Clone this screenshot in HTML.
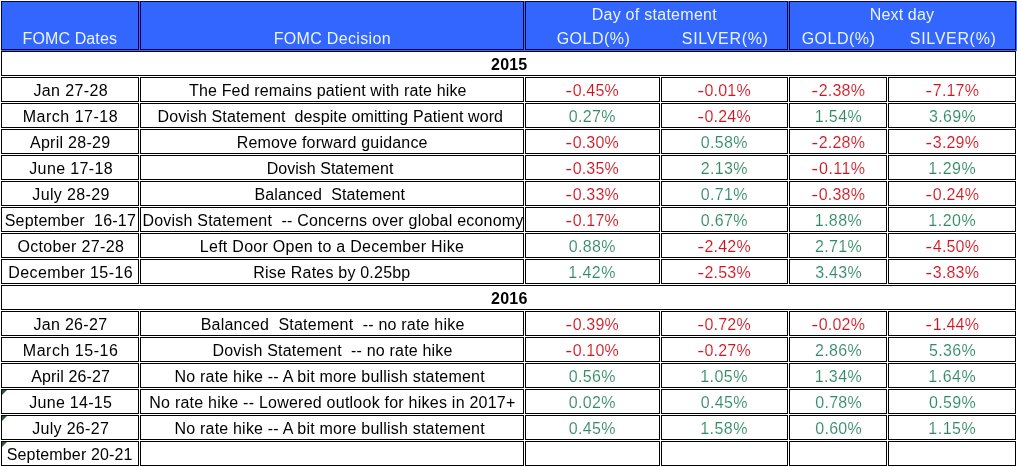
<!DOCTYPE html>
<html><head><meta charset="utf-8"><title>FOMC</title>
<style>
html,body{margin:0;padding:0;background:#fff;}
body{width:1017px;height:467px;position:relative;overflow:hidden;font-family:"Liberation Sans",sans-serif;font-size:16px;color:#111;}
.c{position:absolute;box-sizing:border-box;border:1px solid #000;background:#fff;height:25px;}
.h{position:absolute;box-sizing:border-box;border:1px solid #00005e;background:#3366ff;top:1px;height:49px;}
.hb{position:absolute;left:0;top:0;width:1017px;height:51px;background:#5568bd;}
.w{position:absolute;background:#fff;}
.x{position:absolute;white-space:pre;}
.tx{position:absolute;left:0;top:0;width:1017px;height:467px;will-change:transform;}
.hw{color:#e8f4ff;}
.k{color:#000;}
.r{color:#d0141f;-webkit-text-stroke:0.12px #fff;}
.g{color:#318a66;-webkit-text-stroke:0.12px #fff;}
.y{font-weight:bold;color:#000;}
.m{display:inline-block;transform:scaleX(1.3);transform-origin:100% 50%;}
.t{position:absolute;width:0;height:0;border-top:5px solid #2c5936;border-right:5px solid transparent;}
</style></head><body>
<div class="hb"></div><div class="w" style="left:0;top:0;width:1017px;height:1px"></div><div class="w" style="left:0;top:0;width:1px;height:51px"></div><div class="w" style="left:1016px;top:1px;width:1px;height:49px;background:#4672ee"></div>
<div class="h" style="left:1px;width:138px"></div><div class="h" style="left:140px;width:384px"></div><div class="h" style="left:525px;width:263px"></div><div class="h" style="left:789px;width:227px"></div>
<div class="c" style="left:1px;width:1015px;top:51px;border-top-color:#000038"></div><div class="c" style="left:1px;width:1015px;top:285px"></div>
<div class="c" style="left:1px;width:138px;top:77px"></div><div class="c" style="left:140px;width:384px;top:77px"></div><div class="c" style="left:525px;width:135px;top:77px"></div><div class="c" style="left:661px;width:127px;top:77px"></div><div class="c" style="left:789px;width:98px;top:77px"></div><div class="c" style="left:888px;width:128px;top:77px"></div>
<div class="c" style="left:1px;width:138px;top:103px"></div><div class="c" style="left:140px;width:384px;top:103px"></div><div class="c" style="left:525px;width:135px;top:103px"></div><div class="c" style="left:661px;width:127px;top:103px"></div><div class="c" style="left:789px;width:98px;top:103px"></div><div class="c" style="left:888px;width:128px;top:103px"></div>
<div class="c" style="left:1px;width:138px;top:129px"></div><div class="c" style="left:140px;width:384px;top:129px"></div><div class="c" style="left:525px;width:135px;top:129px"></div><div class="c" style="left:661px;width:127px;top:129px"></div><div class="c" style="left:789px;width:98px;top:129px"></div><div class="c" style="left:888px;width:128px;top:129px"></div>
<div class="c" style="left:1px;width:138px;top:155px"></div><div class="c" style="left:140px;width:384px;top:155px"></div><div class="c" style="left:525px;width:135px;top:155px"></div><div class="c" style="left:661px;width:127px;top:155px"></div><div class="c" style="left:789px;width:98px;top:155px"></div><div class="c" style="left:888px;width:128px;top:155px"></div>
<div class="c" style="left:1px;width:138px;top:181px"></div><div class="c" style="left:140px;width:384px;top:181px"></div><div class="c" style="left:525px;width:135px;top:181px"></div><div class="c" style="left:661px;width:127px;top:181px"></div><div class="c" style="left:789px;width:98px;top:181px"></div><div class="c" style="left:888px;width:128px;top:181px"></div>
<div class="c" style="left:1px;width:138px;top:207px"></div><div class="c" style="left:140px;width:384px;top:207px"></div><div class="c" style="left:525px;width:135px;top:207px"></div><div class="c" style="left:661px;width:127px;top:207px"></div><div class="c" style="left:789px;width:98px;top:207px"></div><div class="c" style="left:888px;width:128px;top:207px"></div>
<div class="c" style="left:1px;width:138px;top:233px"></div><div class="c" style="left:140px;width:384px;top:233px"></div><div class="c" style="left:525px;width:135px;top:233px"></div><div class="c" style="left:661px;width:127px;top:233px"></div><div class="c" style="left:789px;width:98px;top:233px"></div><div class="c" style="left:888px;width:128px;top:233px"></div>
<div class="c" style="left:1px;width:138px;top:259px"></div><div class="c" style="left:140px;width:384px;top:259px"></div><div class="c" style="left:525px;width:135px;top:259px"></div><div class="c" style="left:661px;width:127px;top:259px"></div><div class="c" style="left:789px;width:98px;top:259px"></div><div class="c" style="left:888px;width:128px;top:259px"></div>
<div class="c" style="left:1px;width:138px;top:311px"></div><div class="c" style="left:140px;width:384px;top:311px"></div><div class="c" style="left:525px;width:135px;top:311px"></div><div class="c" style="left:661px;width:127px;top:311px"></div><div class="c" style="left:789px;width:98px;top:311px"></div><div class="c" style="left:888px;width:128px;top:311px"></div>
<div class="c" style="left:1px;width:138px;top:337px"></div><div class="c" style="left:140px;width:384px;top:337px"></div><div class="c" style="left:525px;width:135px;top:337px"></div><div class="c" style="left:661px;width:127px;top:337px"></div><div class="c" style="left:789px;width:98px;top:337px"></div><div class="c" style="left:888px;width:128px;top:337px"></div>
<div class="c" style="left:1px;width:138px;top:363px"></div><div class="c" style="left:140px;width:384px;top:363px"></div><div class="c" style="left:525px;width:135px;top:363px"></div><div class="c" style="left:661px;width:127px;top:363px"></div><div class="c" style="left:789px;width:98px;top:363px"></div><div class="c" style="left:888px;width:128px;top:363px"></div>
<div class="c" style="left:1px;width:138px;top:389px"></div><div class="c" style="left:140px;width:384px;top:389px"></div><div class="c" style="left:525px;width:135px;top:389px"></div><div class="c" style="left:661px;width:127px;top:389px"></div><div class="c" style="left:789px;width:98px;top:389px"></div><div class="c" style="left:888px;width:128px;top:389px"></div>
<div class="c" style="left:1px;width:138px;top:415px"></div><div class="c" style="left:140px;width:384px;top:415px"></div><div class="c" style="left:525px;width:135px;top:415px"></div><div class="c" style="left:661px;width:127px;top:415px"></div><div class="c" style="left:789px;width:98px;top:415px"></div><div class="c" style="left:888px;width:128px;top:415px"></div>
<div class="c" style="left:1px;width:138px;top:441px"></div><div class="c" style="left:140px;width:384px;top:441px"></div><div class="c" style="left:525px;width:135px;top:441px"></div><div class="c" style="left:661px;width:127px;top:441px"></div><div class="c" style="left:789px;width:98px;top:441px"></div><div class="c" style="left:888px;width:128px;top:441px"></div>
<div class="t" style="left:2px;top:390px"></div><div class="t" style="left:2px;top:416px"></div><div class="t" style="left:2px;top:442px"></div>
<div class="tx">
<span class="x hw" style="left:22.52px;top:30px;line-height:18px;letter-spacing:0.121px">FOMC Dates</span>
<span class="x hw" style="left:273.63px;top:30px;line-height:18px;letter-spacing:0.334px">FOMC Decision</span>
<span class="x hw" style="left:591.63px;top:6px;line-height:18px;letter-spacing:0.274px">Day of statement</span>
<span class="x hw" style="left:556.71px;top:30px;line-height:18px;letter-spacing:0.469px">GOLD(%)</span>
<span class="x hw" style="left:681.79px;top:30px;line-height:18px;letter-spacing:0.689px">SILVER(%)</span>
<span class="x hw" style="left:869.87px;top:6px;line-height:18px;letter-spacing:0.132px">Next day</span>
<span class="x hw" style="left:801.71px;top:30px;line-height:18px;letter-spacing:0.469px">GOLD(%)</span>
<span class="x hw" style="left:909.79px;top:30px;line-height:18px;letter-spacing:0.685px">SILVER(%)</span>
<span class="x y" style="left:491.03px;top:53px;line-height:23px;letter-spacing:0.220px">2015</span>
<span class="x y" style="left:491.03px;top:287px;line-height:23px;letter-spacing:0.278px">2016</span>
<span class="x k" style="left:33.43px;top:79px;line-height:23px;letter-spacing:0.384px">Jan 27-28</span>
<span class="x k" style="left:189.10px;top:79px;line-height:23px;letter-spacing:0.142px">The Fed remains patient with rate hike</span>
<span class="x r" style="left:567.22px;top:79px;line-height:23px;letter-spacing:0.145px"><span class="m">-</span>0.45%</span>
<span class="x r" style="left:698.93px;top:79px;line-height:23px;letter-spacing:0.207px"><span class="m">-</span>0.01%</span>
<span class="x r" style="left:813.20px;top:79px;line-height:23px;letter-spacing:0.207px"><span class="m">-</span>2.38%</span>
<span class="x r" style="left:927.32px;top:79px;line-height:23px;letter-spacing:0.180px"><span class="m">-</span>7.17%</span>
<span class="x k" style="left:22.80px;top:105px;line-height:23px;letter-spacing:0.498px">March 17-18</span>
<span class="x k" style="left:157.50px;top:105px;line-height:23px;letter-spacing:0.106px">Dovish Statement  despite omitting Patient word</span>
<span class="x g" style="left:568.87px;top:105px;line-height:23px;letter-spacing:0.297px">0.27%</span>
<span class="x r" style="left:698.93px;top:105px;line-height:23px;letter-spacing:0.207px"><span class="m">-</span>0.24%</span>
<span class="x g" style="left:814.67px;top:105px;line-height:23px;letter-spacing:0.428px">1.54%</span>
<span class="x g" style="left:928.88px;top:105px;line-height:23px;letter-spacing:0.362px">3.69%</span>
<span class="x k" style="left:30.00px;top:131px;line-height:23px;letter-spacing:0.275px">April 28-29</span>
<span class="x k" style="left:236.68px;top:131px;line-height:23px;letter-spacing:0.185px">Remove forward guidance</span>
<span class="x r" style="left:567.22px;top:131px;line-height:23px;letter-spacing:0.145px"><span class="m">-</span>0.30%</span>
<span class="x g" style="left:700.74px;top:131px;line-height:23px;letter-spacing:0.331px">0.58%</span>
<span class="x r" style="left:813.20px;top:131px;line-height:23px;letter-spacing:0.207px"><span class="m">-</span>2.28%</span>
<span class="x r" style="left:927.32px;top:131px;line-height:23px;letter-spacing:0.180px"><span class="m">-</span>3.29%</span>
<span class="x k" style="left:29.28px;top:157px;line-height:23px;letter-spacing:0.357px">June 17-18</span>
<span class="x k" style="left:266.68px;top:157px;line-height:23px;letter-spacing:0.025px">Dovish Statement</span>
<span class="x r" style="left:567.22px;top:157px;line-height:23px;letter-spacing:0.145px"><span class="m">-</span>0.35%</span>
<span class="x g" style="left:700.63px;top:157px;line-height:23px;letter-spacing:0.357px">2.13%</span>
<span class="x r" style="left:813.29px;top:157px;line-height:23px;letter-spacing:0.452px"><span class="m">-</span>0.11%</span>
<span class="x g" style="left:928.33px;top:157px;line-height:23px;letter-spacing:0.500px">1.29%</span>
<span class="x k" style="left:32.28px;top:183px;line-height:23px;letter-spacing:0.379px">July 28-29</span>
<span class="x k" style="left:254.50px;top:183px;line-height:23px;letter-spacing:0.109px">Balanced  Statement</span>
<span class="x r" style="left:567.22px;top:183px;line-height:23px;letter-spacing:0.145px"><span class="m">-</span>0.33%</span>
<span class="x g" style="left:700.74px;top:183px;line-height:23px;letter-spacing:0.331px">0.71%</span>
<span class="x r" style="left:813.20px;top:183px;line-height:23px;letter-spacing:0.207px"><span class="m">-</span>0.38%</span>
<span class="x r" style="left:927.32px;top:183px;line-height:23px;letter-spacing:0.180px"><span class="m">-</span>0.24%</span>
<span class="x k" style="left:4.74px;top:209px;line-height:23px;letter-spacing:0.200px">September  16-17</span>
<span class="x k" style="left:142.49px;top:209px;line-height:23px;letter-spacing:0.208px">Dovish Statement  -- Concerns over global economy</span>
<span class="x r" style="left:567.22px;top:209px;line-height:23px;letter-spacing:0.145px"><span class="m">-</span>0.17%</span>
<span class="x g" style="left:700.74px;top:209px;line-height:23px;letter-spacing:0.331px">0.67%</span>
<span class="x g" style="left:814.67px;top:209px;line-height:23px;letter-spacing:0.428px">1.88%</span>
<span class="x g" style="left:928.33px;top:209px;line-height:23px;letter-spacing:0.500px">1.20%</span>
<span class="x k" style="left:17.45px;top:235px;line-height:23px;letter-spacing:0.340px">October 27-28</span>
<span class="x k" style="left:199.80px;top:235px;line-height:23px;letter-spacing:0.274px">Left Door Open to a December Hike</span>
<span class="x g" style="left:568.87px;top:235px;line-height:23px;letter-spacing:0.297px">0.88%</span>
<span class="x r" style="left:698.93px;top:235px;line-height:23px;letter-spacing:0.207px"><span class="m">-</span>2.42%</span>
<span class="x g" style="left:815.05px;top:235px;line-height:23px;letter-spacing:0.335px">2.71%</span>
<span class="x r" style="left:927.32px;top:235px;line-height:23px;letter-spacing:0.180px"><span class="m">-</span>4.50%</span>
<span class="x k" style="left:8.27px;top:261px;line-height:23px;letter-spacing:0.395px">December 15-16</span>
<span class="x k" style="left:253.27px;top:261px;line-height:23px;letter-spacing:0.211px">Rise Rates by 0.25bp</span>
<span class="x g" style="left:568.34px;top:261px;line-height:23px;letter-spacing:0.429px">1.42%</span>
<span class="x r" style="left:698.93px;top:261px;line-height:23px;letter-spacing:0.207px"><span class="m">-</span>2.53%</span>
<span class="x g" style="left:815.16px;top:261px;line-height:23px;letter-spacing:0.306px">3.43%</span>
<span class="x r" style="left:927.32px;top:261px;line-height:23px;letter-spacing:0.180px"><span class="m">-</span>3.83%</span>
<span class="x k" style="left:33.43px;top:313px;line-height:23px;letter-spacing:0.306px">Jan 26-27</span>
<span class="x k" style="left:200.68px;top:313px;line-height:23px;letter-spacing:0.216px">Balanced  Statement  -- no rate hike</span>
<span class="x r" style="left:567.22px;top:313px;line-height:23px;letter-spacing:0.145px"><span class="m">-</span>0.39%</span>
<span class="x r" style="left:698.93px;top:313px;line-height:23px;letter-spacing:0.207px"><span class="m">-</span>0.72%</span>
<span class="x r" style="left:813.20px;top:313px;line-height:23px;letter-spacing:0.207px"><span class="m">-</span>0.02%</span>
<span class="x r" style="left:927.32px;top:313px;line-height:23px;letter-spacing:0.180px"><span class="m">-</span>1.44%</span>
<span class="x k" style="left:22.80px;top:339px;line-height:23px;letter-spacing:0.523px">March 15-16</span>
<span class="x k" style="left:212.50px;top:339px;line-height:23px;letter-spacing:0.188px">Dovish Statement  -- no rate hike</span>
<span class="x r" style="left:567.22px;top:339px;line-height:23px;letter-spacing:0.145px"><span class="m">-</span>0.10%</span>
<span class="x r" style="left:698.93px;top:339px;line-height:23px;letter-spacing:0.207px"><span class="m">-</span>0.27%</span>
<span class="x g" style="left:815.05px;top:339px;line-height:23px;letter-spacing:0.335px">2.86%</span>
<span class="x g" style="left:928.88px;top:339px;line-height:23px;letter-spacing:0.360px">5.36%</span>
<span class="x k" style="left:31.13px;top:365px;line-height:23px;letter-spacing:0.146px">April 26-27</span>
<span class="x k" style="left:174.50px;top:365px;line-height:23px;letter-spacing:0.201px">No rate hike -- A bit more bullish statement</span>
<span class="x g" style="left:568.87px;top:365px;line-height:23px;letter-spacing:0.297px">0.56%</span>
<span class="x g" style="left:700.21px;top:365px;line-height:23px;letter-spacing:0.463px">1.05%</span>
<span class="x g" style="left:814.67px;top:365px;line-height:23px;letter-spacing:0.428px">1.34%</span>
<span class="x g" style="left:928.33px;top:365px;line-height:23px;letter-spacing:0.500px">1.64%</span>
<span class="x k" style="left:29.28px;top:391px;line-height:23px;letter-spacing:0.281px">June 14-15</span>
<span class="x k" style="left:149.27px;top:391px;line-height:23px;letter-spacing:0.238px">No rate hike -- Lowered outlook for hikes in 2017+</span>
<span class="x g" style="left:568.87px;top:391px;line-height:23px;letter-spacing:0.297px">0.02%</span>
<span class="x g" style="left:700.74px;top:391px;line-height:23px;letter-spacing:0.331px">0.45%</span>
<span class="x g" style="left:815.28px;top:391px;line-height:23px;letter-spacing:0.277px">0.78%</span>
<span class="x g" style="left:929.00px;top:391px;line-height:23px;letter-spacing:0.330px">0.59%</span>
<span class="x k" style="left:32.28px;top:417px;line-height:23px;letter-spacing:0.299px">July 26-27</span>
<span class="x k" style="left:174.50px;top:417px;line-height:23px;letter-spacing:0.201px">No rate hike -- A bit more bullish statement</span>
<span class="x g" style="left:568.87px;top:417px;line-height:23px;letter-spacing:0.297px">0.45%</span>
<span class="x g" style="left:700.21px;top:417px;line-height:23px;letter-spacing:0.463px">1.58%</span>
<span class="x g" style="left:815.28px;top:417px;line-height:23px;letter-spacing:0.277px">0.60%</span>
<span class="x g" style="left:928.33px;top:417px;line-height:23px;letter-spacing:0.500px">1.15%</span>
<span class="x k" style="left:6.74px;top:443px;line-height:23px;letter-spacing:0.153px">September 20-21</span>
</div>
</body></html>
